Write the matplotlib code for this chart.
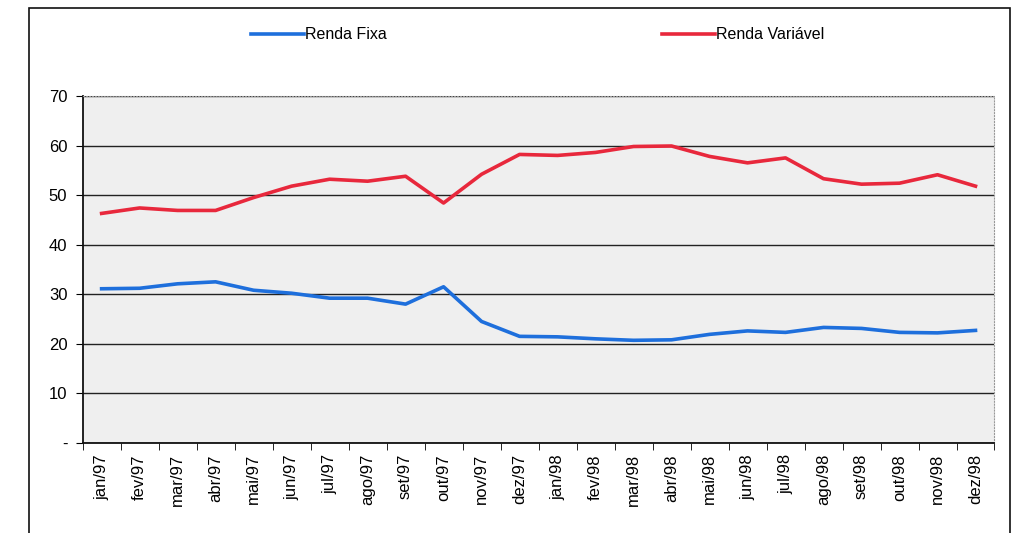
import matplotlib
matplotlib.use("Agg")
import matplotlib.pyplot as plt
from matplotlib.patches import Rectangle
import numpy as np

plt.rcParams['font.family'] = ['Liberation Sans', 'DejaVu Sans']

# monthly share of each portfolio (%)
months = ['jan/97', 'fev/97', 'mar/97', 'abr/97', 'mai/97', 'jun/97', 'jul/97', 'ago/97',
          'set/97', 'out/97', 'nov/97', 'dez/97', 'jan/98', 'fev/98', 'mar/98', 'abr/98',
          'mai/98', 'jun/98', 'jul/98', 'ago/98', 'set/98', 'out/98', 'nov/98', 'dez/98']
renda_fixa = [31.1, 31.2, 32.1, 32.5, 30.8, 30.2, 29.2, 29.2, 28.0, 31.5, 24.5, 21.5,
              21.4, 21.0, 20.7, 20.8, 21.9, 22.6, 22.3, 23.3, 23.1, 22.3, 22.2, 22.7]
renda_variavel = [46.3, 47.4, 46.9, 46.9, 49.5, 51.8, 53.2, 52.8, 53.8, 48.4, 54.2, 58.2,
                  58.0, 58.6, 59.8, 59.9, 57.8, 56.5, 57.5, 53.3, 52.2, 52.4, 54.1, 51.8]
y_ticks = [0, 10, 20, 30, 40, 50, 60, 70]
y_labels = ['-', '10', '20', '30', '40', '50', '60', '70']

fig = plt.figure(figsize=(10.2, 5.33), dpi=100)
ax = fig.add_axes([0.081, 0.169, 0.894, 0.651])

x = np.arange(len(months))
l1, = ax.plot(x, renda_fixa, color='#1e6fdc', lw=2.6, solid_joinstyle='round')
l2, = ax.plot(x, renda_variavel, color='#e8283c', lw=2.6, solid_joinstyle='round')

ax.set_facecolor('#efefef')
ax.set_xlim(-0.5, len(months) - 0.5)
ax.set_ylim(0, 70)
ax.set_yticks(y_ticks)
ax.set_yticklabels(y_labels, fontsize=12)
ax.set_xticks(x)
ax.set_xticklabels(months, rotation=90, fontsize=12)
ax.tick_params(axis='x', length=0, pad=8)
ax.tick_params(axis='y', length=5, direction='out', pad=6)
ax.set_xticks(np.arange(-0.5, len(months)), minor=True)
ax.tick_params(axis='x', which='minor', length=5, direction='out')
ax.yaxis.grid(True, color='#222222', lw=1)
ax.set_axisbelow(True)

for side in ['top', 'right']:
    ax.spines[side].set_color('#999999')
    ax.spines[side].set_linestyle(':')
for side in ['left', 'bottom']:
    ax.spines[side].set_color('#111111')
    ax.spines[side].set_linewidth(1.3)

# legend entries across the top
fig.legend([l1], ['Renda Fixa'], loc='center left', bbox_to_anchor=(0.232, 0.935),
           frameon=False, fontsize=11.5, handlelength=3.3, handletextpad=0.1)
fig.legend([l2], ['Renda Variável'], loc='center left', bbox_to_anchor=(0.635, 0.935),
           frameon=False, fontsize=11.5, handlelength=3.3, handletextpad=0.1)

# outer chart border
fig.patches.append(Rectangle((0.028, -0.01), 0.962, 0.995, transform=fig.transFigure,
                             fill=False, edgecolor='#111111', lw=1.2))

fig.savefig('out.png', dpi=100)
